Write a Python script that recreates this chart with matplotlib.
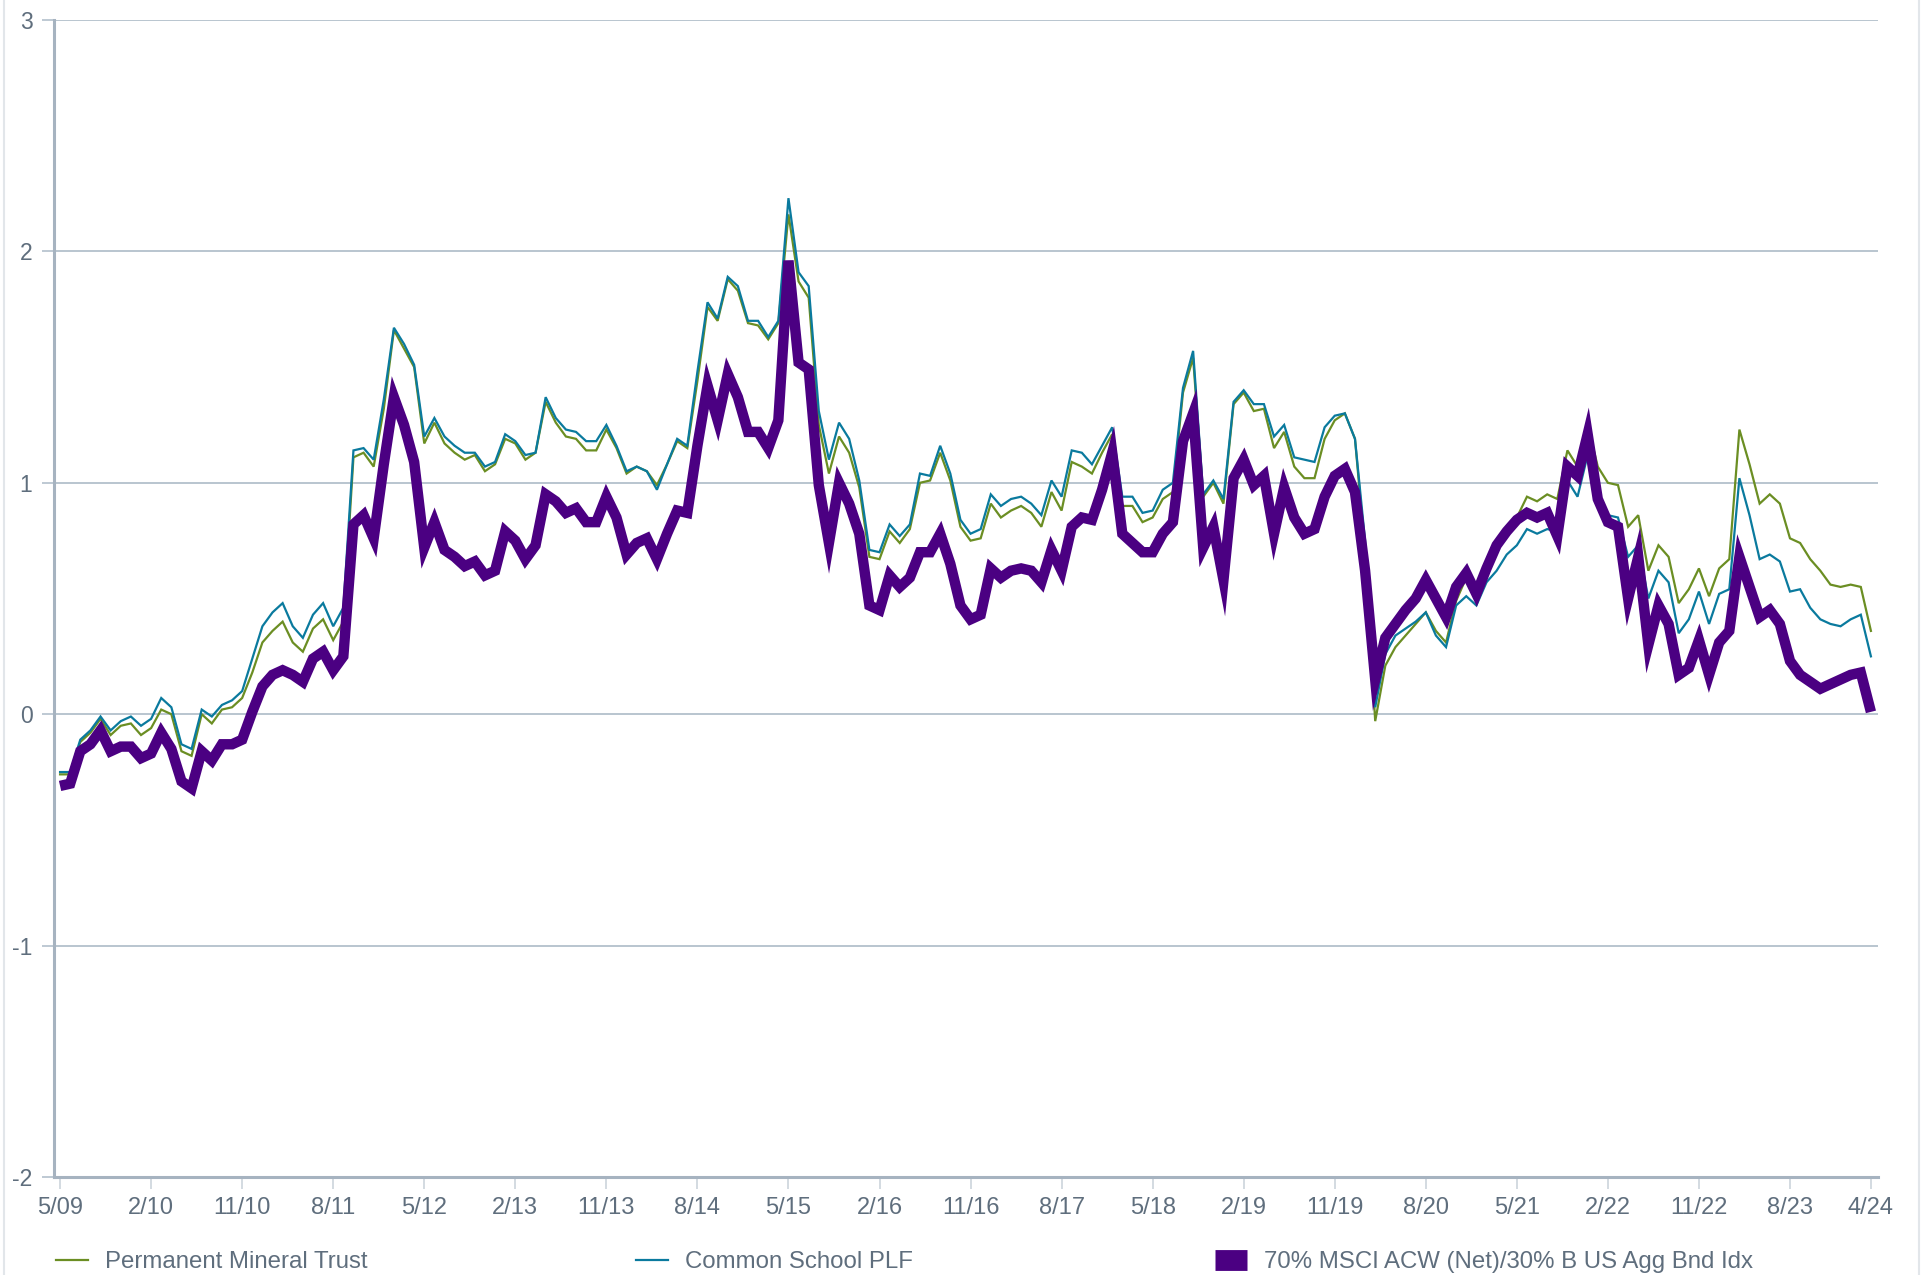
import matplotlib
matplotlib.use("Agg")
import matplotlib.pyplot as plt
from matplotlib.lines import Line2D
import numpy as np

plt.rcParams['font.family'] = ['Liberation Sans', 'DejaVu Sans']

# monthly points, 5/09 .. 4/24
tick_labels = ['5/09', '2/10', '11/10', '8/11', '5/12', '2/13', '11/13', '8/14', '5/15', '2/16',
               '11/16', '8/17', '5/18', '2/19', '11/19', '8/20', '5/21', '2/22', '11/22', '8/23', '4/24']

mineral_trust = [
    -0.26, -0.26, -0.12, -0.08, -0.02, -0.09, -0.05, -0.04, -0.09, -0.06,
    0.02, 0.00, -0.16, -0.18, 0.00, -0.04, 0.02, 0.03, 0.07, 0.18,
    0.31, 0.36, 0.40, 0.31, 0.27, 0.37, 0.41, 0.32, 0.40, 1.11,
    1.13, 1.07, 1.32, 1.66, 1.58, 1.50, 1.17, 1.26, 1.17, 1.13,
    1.10, 1.12, 1.05, 1.08, 1.19, 1.17, 1.10, 1.13, 1.35, 1.26,
    1.20, 1.19, 1.14, 1.14, 1.23, 1.15, 1.04, 1.07, 1.05, 0.99,
    1.08, 1.18, 1.15, 1.44, 1.76, 1.70, 1.88, 1.83, 1.69, 1.68,
    1.62, 1.69, 2.16, 1.87, 1.80, 1.25, 1.04, 1.20, 1.13, 0.98,
    0.68, 0.67, 0.79, 0.74, 0.80, 1.00, 1.01, 1.13, 1.01, 0.81,
    0.75, 0.76, 0.91, 0.85, 0.88, 0.90, 0.87, 0.81, 0.96, 0.88,
    1.09, 1.07, 1.04, 1.13, 1.21, 0.90, 0.90, 0.83, 0.85, 0.93,
    0.96, 1.39, 1.54, 0.94, 1.00, 0.91, 1.34, 1.39, 1.31, 1.32,
    1.15, 1.22, 1.07, 1.02, 1.02, 1.19, 1.27, 1.30, 1.19, 0.70,
    -0.03, 0.21, 0.29, 0.34, 0.39, 0.44, 0.36, 0.31, 0.49, 0.59,
    0.55, 0.65, 0.73, 0.80, 0.85, 0.94, 0.92, 0.95, 0.93, 1.14,
    1.07, 1.25, 1.07, 1.00, 0.99, 0.81, 0.86, 0.62, 0.73, 0.68,
    0.48, 0.54, 0.63, 0.51, 0.63, 0.67, 1.23, 1.08, 0.91, 0.95,
    0.91, 0.76, 0.74, 0.67, 0.62, 0.56, 0.55, 0.56, 0.55, 0.36,
]

common_school = [
    -0.25, -0.25, -0.11, -0.07, -0.01, -0.07, -0.03, -0.01, -0.05, -0.02,
    0.07, 0.03, -0.13, -0.15, 0.02, -0.01, 0.04, 0.06, 0.10, 0.24,
    0.38, 0.44, 0.48, 0.38, 0.33, 0.43, 0.48, 0.38, 0.46, 1.14,
    1.15, 1.10, 1.36, 1.67, 1.60, 1.51, 1.20, 1.28, 1.20, 1.16,
    1.13, 1.13, 1.07, 1.09, 1.21, 1.18, 1.12, 1.13, 1.37, 1.28,
    1.23, 1.22, 1.18, 1.18, 1.25, 1.16, 1.05, 1.07, 1.05, 0.97,
    1.08, 1.19, 1.16, 1.48, 1.78, 1.71, 1.89, 1.85, 1.70, 1.70,
    1.63, 1.70, 2.23, 1.91, 1.85, 1.31, 1.10, 1.26, 1.19, 1.01,
    0.71, 0.70, 0.82, 0.77, 0.82, 1.04, 1.03, 1.16, 1.04, 0.84,
    0.78, 0.80, 0.95, 0.90, 0.93, 0.94, 0.91, 0.86, 1.01, 0.94,
    1.14, 1.13, 1.08, 1.16, 1.24, 0.94, 0.94, 0.87, 0.88, 0.97,
    1.00, 1.41, 1.57, 0.95, 1.01, 0.93, 1.35, 1.40, 1.34, 1.34,
    1.20, 1.25, 1.11, 1.10, 1.09, 1.24, 1.29, 1.30, 1.19, 0.75,
    0.03, 0.26, 0.34, 0.37, 0.40, 0.44, 0.34, 0.29, 0.47, 0.51,
    0.47, 0.57, 0.62, 0.69, 0.73, 0.80, 0.78, 0.80, 0.79, 1.01,
    0.94, 1.12, 0.94, 0.86, 0.85, 0.68, 0.73, 0.50, 0.62, 0.57,
    0.35, 0.41, 0.53, 0.39, 0.52, 0.54, 1.02, 0.86, 0.67, 0.69,
    0.66, 0.53, 0.54, 0.46, 0.41, 0.39, 0.38, 0.41, 0.43, 0.25,
]

benchmark = [
    -0.31, -0.30, -0.16, -0.13, -0.07, -0.16, -0.14, -0.14, -0.19, -0.17,
    -0.08, -0.15, -0.29, -0.32, -0.16, -0.20, -0.13, -0.13, -0.11, 0.01,
    0.12, 0.17, 0.19, 0.17, 0.14, 0.24, 0.27, 0.19, 0.25, 0.82,
    0.86, 0.76, 1.08, 1.37, 1.25, 1.09, 0.72, 0.83, 0.71, 0.68,
    0.64, 0.66, 0.60, 0.62, 0.79, 0.75, 0.67, 0.73, 0.95, 0.92,
    0.87, 0.89, 0.83, 0.83, 0.94, 0.85, 0.69, 0.74, 0.76, 0.67,
    0.78, 0.88, 0.87, 1.16, 1.42, 1.27, 1.47, 1.37, 1.22, 1.22,
    1.15, 1.27, 1.96, 1.52, 1.49, 0.99, 0.74, 1.00, 0.91, 0.78,
    0.47, 0.45, 0.60, 0.55, 0.59, 0.70, 0.70, 0.78, 0.65, 0.47,
    0.41, 0.43, 0.63, 0.59, 0.62, 0.63, 0.62, 0.57, 0.71, 0.62,
    0.81, 0.85, 0.84, 0.97, 1.13, 0.78, 0.74, 0.70, 0.70, 0.78,
    0.83, 1.18, 1.30, 0.72, 0.81, 0.58, 1.02, 1.10, 0.99, 1.03,
    0.78, 0.98, 0.85, 0.78, 0.80, 0.94, 1.03, 1.06, 0.96, 0.62,
    0.15, 0.33, 0.39, 0.45, 0.50, 0.58, 0.50, 0.42, 0.55, 0.61,
    0.52, 0.63, 0.73, 0.79, 0.84, 0.87, 0.85, 0.87, 0.77, 1.07,
    1.03, 1.21, 0.93, 0.83, 0.81, 0.50, 0.68, 0.30, 0.47, 0.39,
    0.17, 0.20, 0.32, 0.17, 0.31, 0.36, 0.68, 0.55, 0.42, 0.45,
    0.39, 0.23, 0.17, 0.14, 0.11, 0.13, 0.15, 0.17, 0.18, 0.01,
]

GREEN = '#6b8e23'
BLUE = '#0a7a9e'
PURPLE = '#4b0082'
GRID = '#b3c0cc'
TEXT = '#5f6e7d'

x = np.arange(len(benchmark))
tick_pos = list(range(0, len(x) - 1, 9)) + [len(x) - 1]

fig = plt.figure(figsize=(19.25, 12.75), dpi=100)
ax = fig.add_axes([54 / 1925, 1 - 1177 / 1275, (1878 - 54) / 1925, (1177 - 20) / 1275])

ax.plot(x, mineral_trust, color=GREEN, lw=1.6, solid_joinstyle='miter', zorder=3)
ax.plot(x, common_school, color=BLUE, lw=1.6, solid_joinstyle='miter', zorder=4)
ax.plot(x, benchmark, color=PURPLE, lw=7.5, solid_joinstyle='miter',
        solid_capstyle='butt', zorder=5)

ax.set_xlim(-0.6, 179.7)
ax.set_ylim(-2, 3)
ax.set_yticks(range(-2, 4))
ax.set_yticklabels([str(v) for v in range(-2, 4)])
ax.set_xticks(tick_pos)
ax.set_xticklabels(tick_labels)

ax.yaxis.grid(True, color=GRID, lw=1.3)
ax.set_axisbelow(True)
for s in ['top', 'right']:
    ax.spines[s].set_visible(False)
ax.spines['left'].set_color('#a6b3c0')
ax.spines['left'].set_linewidth(2.2)
ax.spines['bottom'].set_color('#a6b3c0')
ax.spines['bottom'].set_linewidth(2.2)

ax.tick_params(axis='y', length=8.5, width=1.2, color=GRID, pad=7, labelsize=16.5, labelcolor=TEXT)
ax.tick_params(axis='x', length=8.5, width=1.2, color='#ccd4dc', pad=6, labelsize=17, labelcolor=TEXT)

# legend row along the bottom
h1 = Line2D([], [], color=GREEN, lw=1.6)
h2 = Line2D([], [], color=BLUE, lw=1.6)
h3 = Line2D([], [], color=PURPLE, lw=15, solid_capstyle='butt')
leg_kw = dict(loc='center left', frameon=False, borderpad=0, borderaxespad=0,
              handlelength=1.35, handletextpad=0.68, fontsize=17.3, labelcolor=TEXT)
fig.legend(handles=[h1], labels=['Permanent Mineral Trust'], bbox_to_anchor=(56 / 1925, 0.010), **leg_kw)
fig.legend(handles=[h2], labels=['Common School PLF'], bbox_to_anchor=(636 / 1925, 0.010), **leg_kw)
fig.legend(handles=[h3], labels=['70% MSCI ACW (Net)/30% B US Agg Bnd Idx'],
           bbox_to_anchor=(1215 / 1925, 0.010), **leg_kw)

# faint frame on the sides
fig.add_artist(Line2D([0.002, 0.002], [0, 1], transform=fig.transFigure, color='#e2e6ea', lw=1.5))
fig.add_artist(Line2D([0.997, 0.997], [0, 1], transform=fig.transFigure, color='#e2e6ea', lw=1.5))

fig.savefig('out.png', dpi=100)
